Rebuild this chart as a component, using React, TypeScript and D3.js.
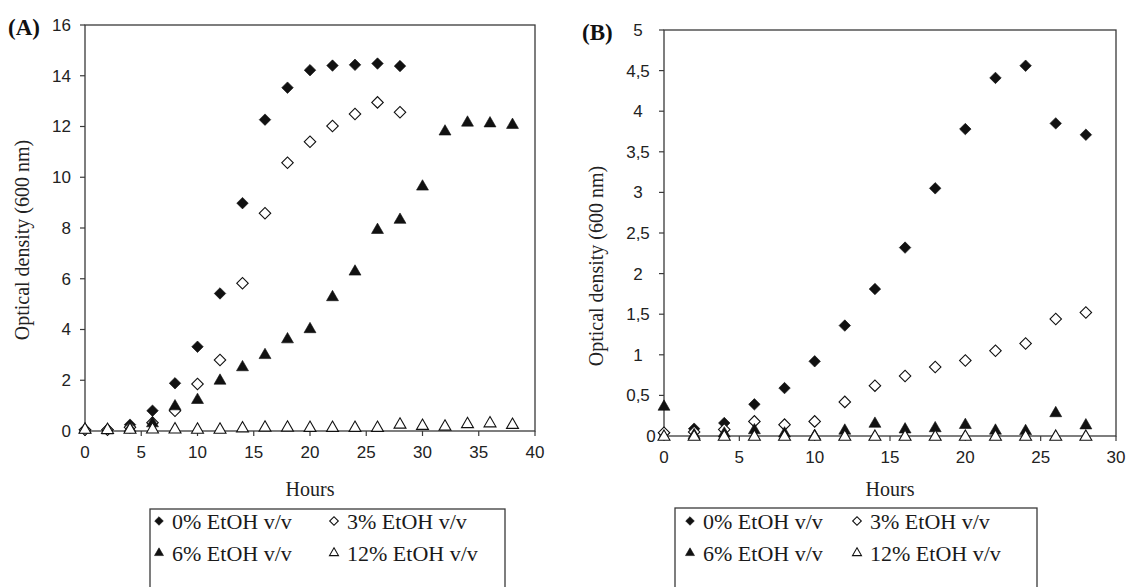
import React from "react";
import * as d3 from "d3";

// ---------- DATA ----------
const hoursA_short = [0, 2, 4, 6, 8, 10, 12, 14, 16, 18, 20, 22, 24, 26, 28];
const hoursA_long = [0, 2, 4, 6, 8, 10, 12, 14, 16, 18, 20, 22, 24, 26, 28, 30, 32, 34, 36, 38];
const A_eth0 = [0.05, 0.05, 0.25, 0.8, 1.88, 3.32, 5.42, 8.98, 12.27, 13.53, 14.22, 14.4, 14.43, 14.48, 14.38];
const A_eth3 = [0.05, 0.05, 0.15, 0.33, 0.8, 1.85, 2.8, 5.82, 8.58, 10.57, 11.4, 12.02, 12.49, 12.95, 12.56];
const A_eth6 = [0.05, 0.02, 0.1, 0.3, 0.97, 1.22, 1.98, 2.51, 2.99, 3.61, 4.01, 5.27, 6.28, 7.92, 8.32, 9.63, 11.8, 12.15, 12.12, 12.06];
const A_eth12 = [0.05, 0.04, 0.05, 0.06, 0.06, 0.05, 0.05, 0.1, 0.13, 0.13, 0.12, 0.12, 0.12, 0.12, 0.25, 0.2, 0.17, 0.27, 0.3, 0.24];

const hoursB = [0, 2, 4, 6, 8, 10, 12, 14, 16, 18, 20, 22, 24, 26, 28];
const B_eth0 = [0.04, 0.09, 0.16, 0.39, 0.59, 0.92, 1.36, 1.81, 2.32, 3.05, 3.78, 4.41, 4.56, 3.85, 3.71];
const B_eth3 = [0.04, 0.05, 0.08, 0.18, 0.14, 0.18, 0.42, 0.62, 0.74, 0.85, 0.93, 1.05, 1.14, 1.44, 1.52];
const B_eth6 = [0.36, 0.01, 0.03, 0.07, 0.03, 0.0, 0.065, 0.15, 0.08, 0.095, 0.135, 0.065, 0.06, 0.28, 0.13];
const B_eth12 = [-0.01, -0.01, -0.01, -0.01, -0.01, -0.01, -0.01, -0.01, -0.01, -0.01, -0.01, -0.01, -0.01, -0.01, -0.01];

const xTicksA = [0, 5, 10, 15, 20, 25, 30, 35, 40];
const yTicksA = [0, 2, 4, 6, 8, 10, 12, 14, 16];
const yTickLabelsA = ["0", "2", "4", "6", "8", "10", "12", "14", "16"];
const xTicksB = [0, 5, 10, 15, 20, 25, 30];
const yTicksB = [0, 0.5, 1, 1.5, 2, 2.5, 3, 3.5, 4, 4.5, 5];
const yTickLabelsB = ["0", "0,5", "1", "1,5", "2", "2,5", "3", "3,5", "4", "4,5", "5"];

const seriesNames = ["0% EtOH v/v", "3% EtOH v/v", "6% EtOH v/v", "12% EtOH v/v"];
const xTitle = "Hours";
const yTitle = "Optical density (600 nm)";

// ---------- STYLE ----------
const SERIF = "'Liberation Serif', 'Times New Roman', serif";
const SANS = "'Liberation Sans', Arial, sans-serif";
const AXIS = "#3a3a3a";

type Shape = "diamondFilled" | "diamondOpen" | "triFilled" | "triOpen";
const shapes: Shape[] = ["diamondFilled", "diamondOpen", "triFilled", "triOpen"];

function Marker({ shape, x, y, scale = 1 }: { shape: Shape; x: number; y: number; scale?: number }) {
  const isDiamond = shape.startsWith("diamond");
  const filled = shape.endsWith("Filled");
  const path = isDiamond
    ? d3.symbol(d3.symbolSquare, 66 * scale * scale)()
    : d3.symbol(d3.symbolTriangle, 62 * scale * scale)();
  return (
    <path
      d={path || ""}
      transform={`translate(${x},${y})${isDiamond ? " rotate(45)" : ""}`}
      fill={filled ? "#111" : "#fff"}
      stroke="#111"
      strokeWidth={filled ? 0.6 : 1.1}
    />
  );
}

function Panel(props: {
  label: string;
  left: number; right: number; top: number; bottom: number;
  xMax: number; yMax: number;
  xTicks: number[]; yTicks: number[]; yLabels: string[];
  series: { x: number[]; y: number[] }[];
  yLabelAnchor: "end" | "middle";
  yLabelX: number;
  yTitleX: number; yTitleY: number;
  labelX: number; labelY: number;
}) {
  const x = d3.scaleLinear().domain([0, props.xMax]).range([props.left, props.right]);
  const y = d3.scaleLinear().domain([0, props.yMax]).range([props.bottom, props.top]);
  return (
    <g>
      <rect x={props.left} y={props.top} width={props.right - props.left} height={props.bottom - props.top}
        fill="none" stroke={AXIS} strokeWidth={1.3} />
      {props.yTicks.map((t, i) => (
        <g key={"yt" + i}>
          <line x1={props.left - 5} x2={props.left} y1={y(t)} y2={y(t)} stroke={AXIS} strokeWidth={1.2} />
          <text x={t === 0 && props.yLabelAnchor === "middle" ? props.yLabelX + 13 : props.yLabelX} y={y(t)} dy="0.35em"
            textAnchor={props.yLabelAnchor} fontFamily={SANS} fontSize={17} fill="#222">{props.yLabels[i]}</text>
        </g>
      ))}
      {props.xTicks.map((t, i) => (
        <g key={"xt" + i}>
          <line x1={x(t)} x2={x(t)} y1={props.bottom} y2={props.bottom + 5} stroke={AXIS} strokeWidth={1.2} />
          <text x={x(t)} y={props.bottom + 21} dy="0.35em" textAnchor="middle" fontFamily={SANS} fontSize={17} fill="#222">{t}</text>
        </g>
      ))}
      {props.series.map((s, si) =>
        s.y.map((v, j) => <Marker key={`m${si}-${j}`} shape={shapes[si]} x={x(s.x[j])} y={y(v)} />)
      )}
      <text x={(props.left + props.right) / 2} y={489} dy="0.35em" textAnchor="middle" fontFamily={SERIF} fontSize={20} fill="#222">{xTitle}</text>
      <text transform={`translate(${props.yTitleX},${props.yTitleY}) rotate(-90)`} dy="0.35em" textAnchor="middle"
        fontFamily={SERIF} fontSize={20} fill="#222">{yTitle}</text>
      <text x={props.labelX} y={props.labelY} dy="0.35em" fontFamily={SERIF} fontWeight="bold" fontSize={23} fill="#111">{props.label}</text>
    </g>
  );
}

function Legend({ left, right, top, col1, col2, row1, row2 }: { left: number; right: number; top: number; col1: number; col2: number; row1: number; row2: number }) {
  const pos = [
    [col1, row1], [col2, row1], [col1, row2], [col2, row2],
  ];
  return (
    <g>
      <rect x={left} y={top} width={right - left} height={120} fill="#fff" stroke={AXIS} strokeWidth={1.3} />
      {seriesNames.map((n, i) => (
        <g key={n}>
          <Marker shape={shapes[i]} x={pos[i][0]} y={pos[i][1]} scale={0.75} />
          <text x={pos[i][0] + 13} y={pos[i][1]} dy="0.35em" fontFamily={SERIF} fontSize={22} fill="#1a1a1a">{n}</text>
        </g>
      ))}
    </g>
  );
}

export default function App() {
  return (
    <svg width={1131} height={587} viewBox="0 0 1131 587"
      style={{ position: "absolute", left: 0, top: 0, background: "#fff" }}>
      <rect width={1131} height={587} fill="#fff" />
      <Panel
        label="(A)" left={85} right={535} top={25} bottom={431} xMax={40} yMax={16}
        xTicks={xTicksA} yTicks={yTicksA} yLabels={yTickLabelsA}
        series={[
          { x: hoursA_short, y: A_eth0 },
          { x: hoursA_short, y: A_eth3 },
          { x: hoursA_long, y: A_eth6 },
          { x: hoursA_long, y: A_eth12 },
        ]}
        yLabelAnchor="end" yLabelX={71}
        yTitleX={22} yTitleY={240} labelX={8} labelY={27}
      />
      <Panel
        label="(B)" left={664} right={1116} top={30} bottom={436} xMax={30} yMax={5}
        xTicks={xTicksB} yTicks={yTicksB} yLabels={yTickLabelsB}
        series={[
          { x: hoursB, y: B_eth0 },
          { x: hoursB, y: B_eth3 },
          { x: hoursB, y: B_eth6 },
          { x: hoursB, y: B_eth12 },
        ]}
        yLabelAnchor="middle" yLabelX={638}
        yTitleX={596} yTitleY={266} labelX={582} labelY={32}
      />
      <Legend left={150} right={505} top={509} col1={159} col2={334} row1={521} row2={553} />
      <Legend left={675} right={1037} top={508} col1={690} col2={857} row1={521} row2={553} />
    </svg>
  );
}
